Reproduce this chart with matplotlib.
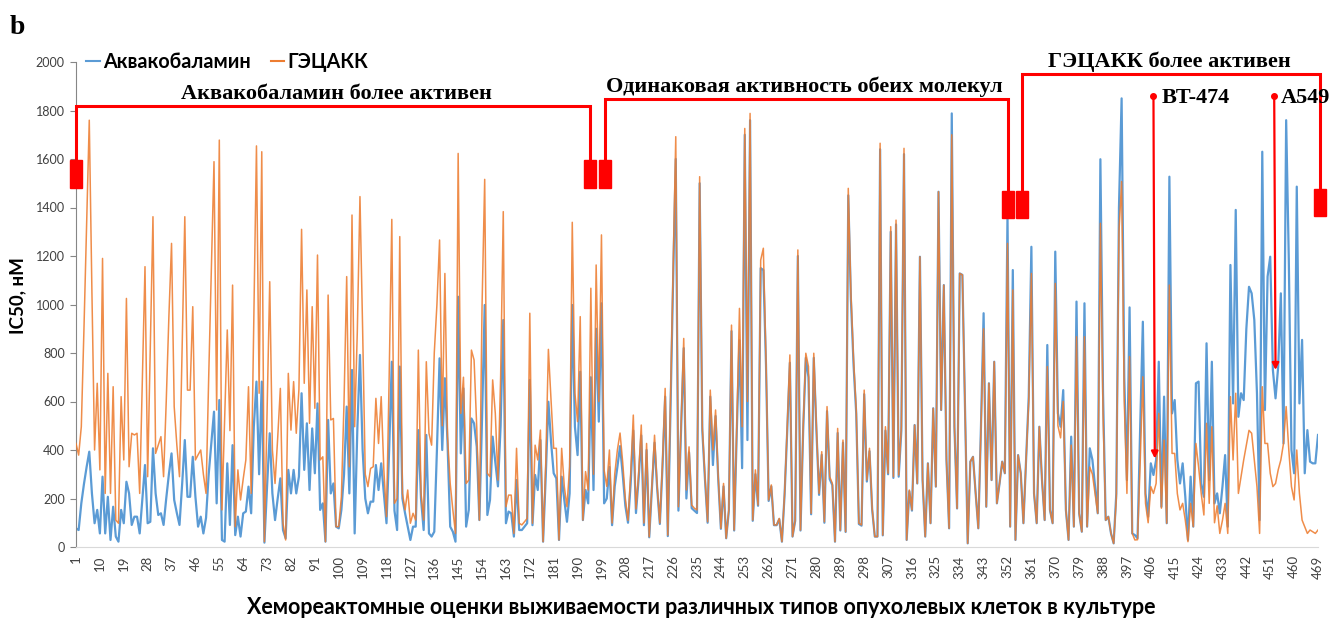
import matplotlib
matplotlib.use("Agg")
import matplotlib.pyplot as plt
from matplotlib.patches import Rectangle
import numpy as np

# ---------------- data ----------------
gecakk = [
    427, 379, 496, 900, 1330, 1760, 1050, 400, 675, 318,
    1190, 221, 716, 221, 661, 111, 98, 620, 359, 1025,
    331, 469, 462, 469, 221, 680, 1156, 290, 820, 1362,
    386, 420, 455, 290, 600, 950, 1252, 579, 420, 290,
    830, 1362, 647, 647, 991, 359, 380, 400, 300, 221,
    700, 1150, 1589, 565, 1678, 153, 520, 895, 480, 1080,
    84, 318, 194, 280, 359, 661, 221, 930, 1654, 634,
    1630, 22, 560, 1094, 400, 262, 450, 654, 98, 29,
    716, 482, 682, 469, 650, 1310, 675, 1060, 510, 991,
    572, 1204, 359, 372, 22, 1039, 524, 530, 84, 84,
    207, 600, 1115, 331, 1369, 496, 888, 1445, 900, 300,
    249, 324, 331, 613, 427, 620, 318, 125, 700, 1351,
    180, 200, 1280, 221, 153, 235, 98, 139, 111, 812,
    221, 111, 764, 469, 420, 800, 1000, 1266, 500, 1128,
    455, 262, 153, 56, 1623, 551, 700, 262, 276, 812,
    771, 496, 111, 991, 1516, 304, 290, 689, 551, 276,
    700, 1383, 166, 214, 214, 56, 407, 98, 91, 104,
    118, 964, 98, 420, 359, 482, 22, 345, 815, 606,
    407, 407, 29, 407, 249, 166, 331, 1339, 634, 517,
    950, 111, 311, 235, 1067, 300, 1163, 600, 1287, 317,
    250, 400, 99, 300, 400, 470, 350, 200, 110, 300,
    544, 157, 300, 503, 99, 427, 42, 250, 461, 250,
    99, 350, 654, 49, 600, 1150, 1692, 166, 500, 860,
    235, 413, 173, 160, 153, 1527, 496, 290, 104, 647,
    400, 565, 290, 77, 262, 36, 153, 915, 70, 500,
    984, 496, 1726, 600, 1788, 111, 318, 173, 1183, 1232,
    771, 194, 256, 91, 91, 118, 22, 221, 496, 792,
    43, 111, 1225, 70, 496, 799, 744, 139, 799, 496,
    221, 393, 104, 579, 290, 262, 22, 489, 70, 441,
    63, 1479, 1046, 771, 565, 98, 91, 647, 276, 407,
    159, 43, 43, 1665, 49, 496, 304, 1321, 290, 1348,
    297, 496, 1644, 29, 235, 153, 503, 262, 1197, 276,
    43, 345, 98, 572, 249, 1465, 565, 1080, 359, 77,
    1700, 496, 159, 1128, 1122, 565, 15, 352, 372, 221,
    77, 496, 900, 166, 675, 276, 764, 180, 262, 352,
    304, 1252, 84, 1060, 29, 379, 304, 98, 359, 600,
    1128, 221, 98, 496, 276, 111, 744, 153, 98, 1087,
    500, 450, 600, 153, 29, 420, 84, 867, 139, 63,
    867, 84, 330, 300, 220, 139, 1335, 550, 111, 125,
    56, 15, 200, 1300, 1507, 600, 221, 785, 56, 29,
    30, 350, 702, 180, 100, 249, 221, 262, 551, 160,
    441, 98, 1080, 386, 386, 220, 153, 180, 110, 22,
    180, 84, 427, 331, 220, 132, 510, 180, 496, 100,
    170, 56, 110, 180, 56, 620, 359, 634, 221, 290,
    359, 420, 481, 469, 359, 249, 56, 661, 427, 427,
    304, 249, 262, 318, 359, 427, 579, 400, 249, 194,
    400, 221, 111, 84, 56, 70, 63, 56, 70,
]

aquacobalamin = [
    77, 70, 180, 260, 330, 393, 221, 98, 153, 56,
    290, 56, 207, 29, 166, 43, 22, 153, 98, 269,
    221, 91, 125, 125, 56, 200, 338, 98, 104, 407,
    221, 132, 139, 91, 200, 300, 386, 194, 140, 91,
    260, 441, 207, 207, 372, 207, 84, 125, 56, 120,
    300, 430, 558, 180, 606, 29, 22, 345, 91, 420,
    49, 125, 43, 139, 146, 249, 139, 496, 682, 300,
    682, 18, 250, 469, 221, 111, 200, 283, 70, 36,
    318, 221, 318, 221, 290, 634, 318, 510, 235, 489,
    304, 592, 153, 180, 22, 524, 221, 262, 84, 77,
    153, 300, 579, 221, 730, 56, 482, 792, 400, 200,
    139, 187, 187, 338, 235, 345, 221, 98, 400, 764,
    150, 70, 744, 200, 139, 84, 29, 84, 84, 482,
    200, 70, 462, 56, 43, 63, 400, 778, 400, 696,
    427, 84, 63, 22, 1032, 386, 654, 84, 153, 530,
    510, 414, 111, 530, 998, 132, 194, 455, 350, 250,
    500, 936, 98, 146, 139, 43, 276, 70, 70, 84,
    98, 689, 90, 297, 235, 441, 22, 290, 599, 434,
    304, 283, 29, 290, 194, 104, 221, 998, 496, 379,
    723, 111, 235, 180, 700, 235, 900, 517, 1005, 180,
    200, 330, 90, 250, 330, 416, 300, 170, 100, 260,
    480, 140, 280, 460, 90, 400, 40, 240, 430, 240,
    95, 330, 620, 45, 560, 1100, 1600, 150, 480, 820,
    200, 390, 160, 150, 140, 1500, 480, 280, 100, 620,
    338, 540, 280, 75, 250, 36, 150, 890, 68, 480,
    852, 325, 1700, 441, 1760, 108, 300, 170, 1150, 1142,
    750, 190, 250, 90, 90, 115, 22, 215, 480, 760,
    43, 108, 1200, 68, 480, 780, 700, 135, 780, 480,
    215, 380, 100, 560, 280, 255, 22, 470, 68, 430,
    62, 1450, 1020, 750, 550, 95, 88, 630, 270, 395,
    155, 43, 43, 1640, 48, 480, 300, 1300, 285, 1330,
    290, 480, 1620, 29, 230, 150, 503, 262, 1197, 276,
    43, 345, 98, 572, 249, 1465, 565, 1080, 359, 77,
    1788, 496, 159, 1128, 1122, 565, 15, 352, 372, 221,
    77, 496, 964, 166, 675, 276, 764, 180, 262, 352,
    304, 1369, 84, 1142, 29, 379, 304, 98, 359, 620,
    1238, 221, 98, 496, 276, 111, 833, 153, 98, 1218,
    551, 496, 647, 153, 29, 455, 84, 1012, 139, 63,
    1005, 84, 407, 359, 249, 139, 1599, 634, 111, 125,
    56, 15, 221, 1400, 1850, 700, 276, 988, 56, 49,
    36, 496, 929, 221, 125, 345, 297, 359, 764, 166,
    620, 98, 1527, 551, 606, 359, 262, 345, 207, 29,
    290, 84, 675, 682, 262, 207, 840, 276, 764, 180,
    221, 139, 249, 379, 84, 1163, 592, 1390, 537, 634,
    606, 900, 1073, 1046, 936, 634, 111, 1630, 565, 1115,
    1197, 730, 613, 744, 1046, 427, 1760, 1183, 400, 304,
    1486, 592, 854, 304, 482, 352, 345, 345, 462,
]

samples = list(range(1, len(gecakk) + 1))
tick_labels = [str(v) for v in range(1, len(gecakk) + 1, 9)]
series_names = ["Аквакобаламин", "ГЭЦАКК"]
group_titles = ["Аквакобаламин более активен",
                "Одинаковая активность обеих молекул",
                "ГЭЦАКК более активен"]
cell_lines = ["BT-474", "A549"]

# ---------------- figure ----------------
W, H = 1329, 619
fig = plt.figure(figsize=(W / 100, H / 100), dpi=100)
ax = fig.add_axes([76 / W, 1 - 547 / H, (1318 - 76) / W, (547 - 62) / H])

BLUE = "#5B9BD5"
ORANGE = "#ED7D31"
RED = "#FF0000"
SANS = ["Lato", "DejaVu Sans"]
SERIF = ["Liberation Serif", "DejaVu Serif"]

l1, = ax.plot(samples, aquacobalamin, color=BLUE, lw=1.6, label=series_names[0], zorder=2)
l2, = ax.plot(samples, gecakk, color=ORANGE, lw=1.1, alpha=0.88, label=series_names[1], zorder=3)

ax.set_xlim(1, len(gecakk))
ax.set_ylim(0, 2000)
ax.set_yticks(range(0, 2001, 200))
ax.set_yticklabels([str(v) for v in range(0, 2001, 200)], fontsize=9, family=SANS, color="#404040")
ax.set_xticks(list(range(1, len(gecakk) + 1, 9)))
ax.set_xticklabels(tick_labels, rotation=90, fontsize=9.5, family=SANS, color="#404040")
ax.tick_params(axis="x", length=0, pad=6)
ax.tick_params(axis="y", length=4, direction="out", color="#868686", pad=4)
for s in ["top", "right"]:
    ax.spines[s].set_visible(False)
ax.spines["left"].set_color("#868686")
ax.spines["bottom"].set_color("#D9D9D9")

leg = ax.legend(handles=[l1, l2], loc="center left", bbox_to_anchor=(0.002, 1.0), ncol=2,
                frameon=False, handlelength=0.7, handletextpad=0.15, columnspacing=1.0,
                prop={"family": SANS, "weight": "bold", "size": 14.2}, borderaxespad=0)
for h in leg.legend_handles:
    h.set_linewidth(1.5)
    h.set_alpha(1)

# ---------------- group brackets ----------------
box_w = 4.6
def box(xc, y0, y1):
    ax.add_patch(Rectangle((xc - box_w / 2, y0), box_w, y1 - y0, color=RED,
                           clip_on=False, zorder=5))

def bracket(x0, x1, ytop, yleft, yright):
    ax.plot([x0, x0, x1, x1], [yleft, ytop, ytop, yright], color=RED, lw=2.2,
            clip_on=False, zorder=5, solid_joinstyle="miter")

bracket(1, 194.7, 1818, 1596, 1596)
box(1, 1480, 1596); box(194.7, 1480, 1596)
bracket(200.3, 352.2, 1847, 1596, 1468)
box(200.3, 1480, 1596); box(352.2, 1357, 1468)
bracket(357.4, 469.7, 1950, 1468, 1476)
box(357.4, 1357, 1468); box(469.7, 1365, 1476)

tkw = dict(family=SERIF, weight="bold", fontsize=16, ha="center", va="center", zorder=6)
ax.text(99, 1868, group_titles[0], **tkw)
ax.text(275.5, 1897, group_titles[1], **tkw)
ax.text(413, 2003, group_titles[2], clip_on=False, **tkw)

# ---------------- cell line arrows ----------------
for name, x_idx, y_end, x_txt in [(cell_lines[0], 407, 365, 410), (cell_lines[1], 452.5, 730, 455)]:
    ax.annotate("", xy=(x_idx + 0.5, y_end), xytext=(x_idx, 1860),
                arrowprops=dict(arrowstyle="-|>", color=RED, lw=1.6, mutation_scale=10,
                                shrinkA=0, shrinkB=0), zorder=6)
    ax.plot([x_idx], [1860], marker="o", ms=4, color=RED, zorder=6)
    ax.text(x_txt, 1850, name, family=SERIF, weight="bold", fontsize=16,
            ha="left", va="center", zorder=6)

# ---------------- labels ----------------
fig.text(18 / W, 1 - 296 / H, "IC50, нМ", rotation=90, ha="center", va="center",
         family=SANS, weight="bold", fontsize=13.5)
fig.text(701 / W, 1 - 607 / H,
         "Хемореактомные оценки выживаемости различных типов опухолевых клеток в культуре",
         ha="center", va="center", family=SANS, weight="bold", fontsize=15.5)
fig.text(10 / W, 1 - 28 / H, "b", ha="left", va="center", family=SERIF,
         weight="bold", fontsize=20)

fig.savefig("out.png", dpi=100, facecolor="white")
